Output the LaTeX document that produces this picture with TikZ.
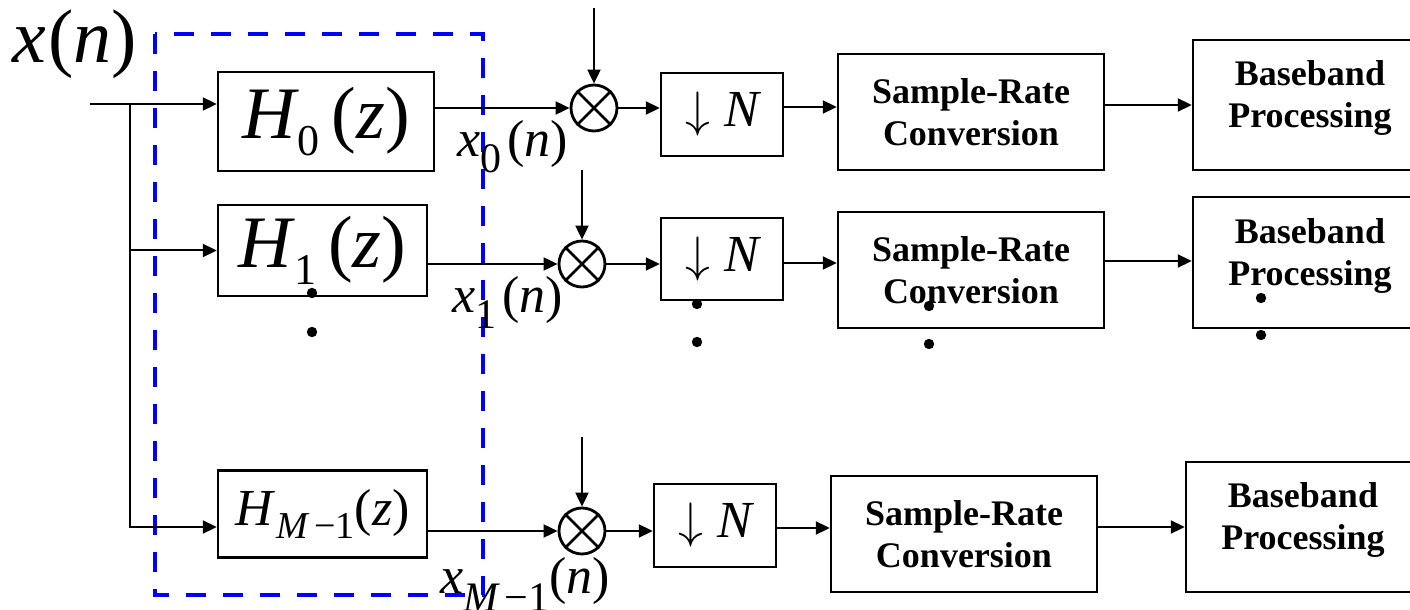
\documentclass[tikz,border=0pt]{standalone}
\usepackage{fontspec}
\setmainfont{Liberation Serif}[
  ItalicFont={Liberation Serif Italic},
  BoldFont={Liberation Serif Bold}]
\newfontfamily\tnr{Liberation Serif}[ItalicFont={Liberation Serif Italic}]
\usetikzlibrary{arrows.meta,calc}

% font size shortcut, italic letter and a lowered subscript
\newcommand{\setfs}[1]{\fontsize{#1}{#1}\selectfont}
\newcommand{\vr}[1]{{\tnr\itshape #1}}
\newcommand{\lowered}[2]{\raisebox{-#1}{#2}}

\begin{document}
\begin{tikzpicture}[x=0.5pt,y=-0.5pt,
  arr/.style={line width=1pt,-{Triangle[length=7pt,width=6.5pt]}},
  blk/.style={draw,line width=1.2pt,inner sep=0pt,align=center},
  mixer/.style={draw,circle,line width=1.4pt,minimum size=23pt,inner sep=0pt},
  boldtxt/.style={font=\bfseries\fontsize{18}{21}\selectfont},
  srcbox/.style={blk,boldtxt,minimum width=133pt,minimum height=58pt},
  bbbox/.style={blk,minimum width=117pt,minimum height=65pt,
    label={[boldtxt,align=center,yshift=3.5pt]center:Baseband\\Processing}},
  dnbox/.style={blk,minimum width=61pt,minimum height=41.5pt,font=\tnr\setfs{26}},
  dots/.style={fill=black},
]
\useasboundingbox (0,0) rectangle (1410,610);
\clip (0,0) rectangle (1410,610);

% analysis filter bank enclosure
\draw[blue,line width=2.4pt,dash pattern=on 10pt off 8.5pt] (155,34) rectangle (483,595);

% input
\node (xn) at (75,44) {\tnr\setfs{38}\vr{x}\hspace{1pt}(\vr{n})};
\coordinate (in) at (90,104);
\coordinate (br) at (130,104);

% filters
\node[blk,minimum width=108pt,minimum height=49.5pt] (h0) at (326,121.5)
  {\tnr\setfs{37}\vr{H}\hspace{1pt}\lowered{8.5pt}{\setfs{22}0}\hspace{6pt}(\vr{z})};
\node[blk,minimum width=104.5pt,minimum height=45.5pt] (h1) at (322.5,250.5)
  {\tnr\setfs{37}\vr{H}\hspace{1pt}\lowered{8.5pt}{\setfs{22}1}\hspace{6pt}(\vr{z})};
\node[blk,minimum width=104.5pt,minimum height=43.5pt] (hm) at (322.5,514)
  {\tnr\setfs{26}\vr{H}\lowered{6.5pt}{\setfs{19}\hspace{2pt}\vr{M}\hspace{3pt}−1}(\vr{z})};

\draw[arr] (in) -- (in -| h0.west);
\draw[arr] (br) |- (h1.west);
\draw[arr] (br) |- (hm.west |- 0,527);

% mixers
\node[mixer] (mx0) at (594,108) {};
\node[mixer] (mx1) at (582,264) {};
\node[mixer] (mx2) at (582,531) {};
\foreach \m in {mx0,mx1,mx2}{
  \draw[line width=1.4pt] (\m.north west) -- (\m.south east)
                          (\m.north east) -- (\m.south west);
}
\coordinate (t0) at (594,8);
\coordinate (t1) at (582,170);
\coordinate (t2) at (582,437);
\draw[arr] (t0) -- (mx0);
\draw[arr] (t1) -- (mx1);
\draw[arr] (t2) -- (mx2);

% decimators
\node[dnbox] (dn0) at (722,114.5) {$\downarrow$\hspace{7pt}\vr{N}};
\node[dnbox,minimum height=41pt] (dn1) at (722,259) {$\downarrow$\hspace{7pt}\vr{N}};
\node[dnbox] (dn2) at (715,525.5) {$\downarrow$\hspace{7pt}\vr{N}};

% sample-rate conversion
\node[srcbox] (src0) at (971,112) {Sample-Rate\\Conversion};
\node[srcbox] (src1) at (971,270) {Sample-Rate\\Conversion};
\node[srcbox] (src2) at (964,534) {Sample-Rate\\Conversion};

% baseband processing
\node[bbbox] (bb0) at (1310,105) {};
\node[bbbox,minimum height=65.5pt] (bb1) at (1310,262.5) {};
\node[bbbox] (bb2) at (1303,527) {};

% signal paths
\draw[arr] (h0.east |- mx0) -- (mx0);
\draw[arr] (mx0) -- (mx0 -| dn0.west);
\draw[arr] (dn0.east |- 0,107) -- (src0.west |- 0,107);
\draw[arr] (src0.east |- 0,105) -- (bb0.west |- 0,105);

\draw[arr] (h1.east |- mx1) -- (mx1);
\draw[arr] (mx1) -- (mx1 -| dn1.west);
\draw[arr] (dn1.east |- 0,263) -- (src1.west |- 0,263);
\draw[arr] (src1.east |- 0,261) -- (bb1.west |- 0,261);

\draw[arr] (hm.east |- mx2) -- (mx2);
\draw[arr] (mx2) -- (mx2 -| dn2.west);
\draw[arr] (dn2.east |- 0,528) -- (src2.west |- 0,528);
\draw[arr] (src2.east |- 0,527) -- (bb2.west |- 0,527);

% branch signal labels
\node[anchor=base west,inner sep=0pt] (lx0) at (457,157)
  {\tnr\setfs{26}\vr{x}\lowered{8pt}{\setfs{21}0}\hspace{3pt}(\vr{n})};
\node[anchor=base west,inner sep=0pt] (lx1) at (452,313)
  {\tnr\setfs{26}\vr{x}\lowered{8pt}{\setfs{21}1}\hspace{3pt}(\vr{n})};
\node[anchor=base west,inner sep=0pt] (lxm) at (440,593)
  {\tnr\setfs{26}\vr{x}\lowered{9pt}{\setfs{21}\vr{M}\hspace{3pt}−1}(\vr{n})};

% continuation dots
\foreach \p in {(312,293),(312,332),(697,304),(697,342),
                (929,306),(929,344),(1261,298),(1261,335)}
  \fill[dots] \p circle (2.6pt);
\end{tikzpicture}
\end{document}
